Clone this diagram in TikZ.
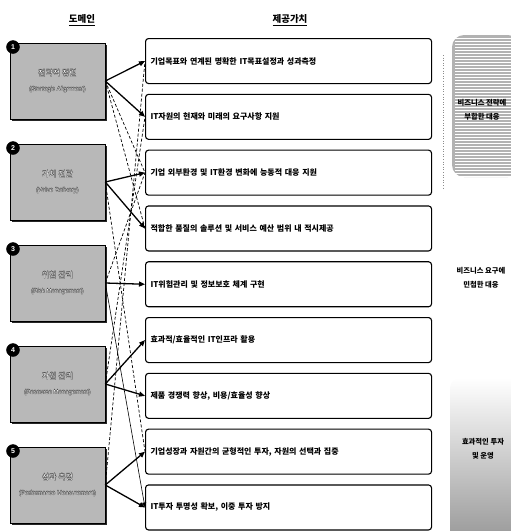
\documentclass[tikz,border=0pt]{standalone}
\usepackage{fontspec}
\setmainfont{Liberation Sans}
\newfontfamily\kr{Noto Sans CJK KR}
\usetikzlibrary{arrows.meta,shadows}
\tikzset{
  lbox/.style={draw=black, line width=0.6pt, fill=black!28, minimum width=95pt, minimum height=76pt,
    drop shadow={shadow xshift=1.6pt, shadow yshift=-1.6pt, fill=black, opacity=0.85}},
  rbox/.style={draw=black, line width=1.1pt, rounded corners=3pt, fill=white, anchor=north west,
    minimum height=45pt, text width=276pt, inner xsep=5pt, align=left,
    font=\kr\bfseries\fontsize{8}{9}\selectfont},
  numc/.style={circle, fill=black, draw=black, inner sep=0pt, minimum size=13pt, text=white,
    font=\bfseries\fontsize{7}{7}\selectfont},
  lbltxt/.style={align=center, font=\fontsize{8}{15}\selectfont, inner sep=0pt},
  hdr/.style={font=\kr\bfseries\fontsize{9.5}{10}\selectfont, inner sep=0pt},
  side/.style={align=center, font=\kr\bfseries\fontsize{7.3}{14}\selectfont, inner sep=0pt},
  arr/.style={line width=1.3pt, -{Triangle[length=6pt,width=5pt]}},
  thinarr/.style={line width=0.6pt, -{Triangle[length=5pt,width=4pt]}},
  dsh/.style={line width=0.7pt, dash pattern=on 3pt off 2pt}
}
\newcommand\boxlabel[2]{%
  \foreach \dx/\dy in {0.3/0,-0.3/0,0/0.3,0/-0.3}{%
    \node[lbltxt,text=black!80] at ([shift={(\dx pt,\dy pt)}]#1) {#2};}%
  \node[lbltxt,text=white] at (#1) {#2};}
\begin{document}
\begin{tikzpicture}[x=1pt,y=-1pt]
\useasboundingbox (0,0) rectangle (511,531);

% side shaded areas
\fill[black!30, rounded corners=12pt] (452,35) rectangle (520,177);
\foreach \yy in {38,41,...,176} {\draw[white, line width=0.5pt] (455,\yy) -- (511,\yy);}
\shade[top color=white, bottom color=black!40, rounded corners=10pt] (450,378) rectangle (520,540);
\draw[black!45, dotted, line width=0.6pt] (443,55) -- (443,190);

% headers
\node[hdr] (h1) at (82,20) {\underline{도메인}};
\node[hdr] (h2) at (290,20) {\underline{제공가치}};

% right boxes
\node[rbox] (r1) at (145,38.0)  {기업목표와 연계된 명확한 IT목표설정과 성과측정};
\node[rbox] (r2) at (145,93.8)  {IT자원의 현재와 미래의 요구사항 지원};
\node[rbox] (r3) at (145,149.6) {기업 외부환경 및 IT환경 변화에 능동적 대응 지원};
\node[rbox] (r4) at (145,205.4) {적합한 품질의 솔루션 및 서비스 예산 범위 내 적시제공};
\node[rbox] (r5) at (145,261.2) {IT위험관리 및 정보보호 체계 구현};
\node[rbox] (r6) at (145,317.0) {효과적/효율적인 IT인프라 활용};
\node[rbox] (r7) at (145,372.8) {제품 경쟁력 향상, 비용/효율성 향상};
\node[rbox] (r8) at (145,428.6) {기업성장과 자원간의 균형적인 투자, 자원의 선택과 집중};
\node[rbox] (r9) at (145,484.4) {IT투자 투명성 확보, 이중 투자 방지};

% left boxes
\node[lbox] (l1) at (57.5,81)  {};
\node[lbox] (l2) at (57.5,182) {};
\node[lbox] (l3) at (57.5,283) {};
\node[lbox] (l4) at (57.5,384) {};
\node[lbox] (l5) at (57.5,485) {};
\boxlabel{l1.center}{{\kr 전략적 정렬}\\{\fontsize{6}{7}\selectfont (Strategic Alignment)}}
\boxlabel{l2.center}{{\kr 가치 전달}\\{\fontsize{6}{7}\selectfont (Value Delivery)}}
\boxlabel{l3.center}{{\kr 위험 관리}\\{\fontsize{6}{7}\selectfont (Risk Management)}}
\boxlabel{l4.center}{{\kr 자원 관리}\\{\fontsize{6}{7}\selectfont (Resource Management)}}
\boxlabel{l5.center}{{\kr 성과 측정}\\{\fontsize{6}{7}\selectfont (Performance Measurement)}}
\node[numc] (n1) at (13,47)  {1};
\node[numc] (n2) at (13,148) {2};
\node[numc] (n3) at (13,249) {3};
\node[numc] (n4) at (13,350) {4};
\node[numc] (n5) at (13,451) {5};

% dashed links (secondary)
\draw[dsh] (l1.east) -- (r3.west);
\draw[dsh] (l1.east) -- (r4.west);
\draw[dsh] (l2.east) -- (r8.west);
\draw[dsh] (l3.east) -- (r3.west);
\draw[dsh] (l4.east) -- (r2.west);
\draw[dsh] (l5.east) -- (r1.west);

% solid links
\draw[arr] (l1.east) -- (r1.west);
\draw[arr] (l1.east) -- (r2.west);
\draw[arr] (l2.east) -- (r3.west);
\draw[arr] (l2.east) -- (r4.west);
\draw[arr] (l3.east) -- (r5.west);
\draw[thinarr] (l3.east) -- (r9.west);
\draw[arr] (l4.east) -- (r6.west);
\draw[arr] (l4.east) -- (r7.west);
\draw[arr] (l5.east) -- (r8.west);
\draw[arr] (l5.east) -- (r9.west);

% side labels
\node[side] (s1) at (482,110) {비즈니스 전략에\\부합한 대응};
\node[side] (s2) at (481,278) {비즈니스 요구에\\민첩한 대응};
\node[side] (s3) at (483,449) {효과적인 투자\\및 운영};
\end{tikzpicture}
\end{document}
